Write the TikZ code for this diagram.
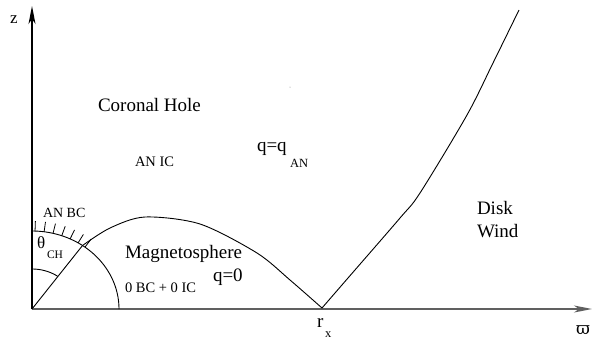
\documentclass[tikz,border=0pt]{standalone}
\usepackage{fontspec}
\setmainfont{Liberation Serif}
\newfontfamily\dvserif{DejaVu Serif}
\usetikzlibrary{arrows.meta}
\tikzset{
  lbl/.style={anchor=base west,inner sep=0pt,outer sep=0pt},
  big/.style={lbl,font=\fontsize{19}{19}\selectfont},
  mid/.style={lbl,font=\fontsize{14.5}{14.5}\selectfont},
  sub/.style={lbl,font=\fontsize{12.5}{12.5}\selectfont},
  curve/.style={line width=0.9pt,black},
  axtip/.style={-{Stealth[length=18pt,width=7pt,inset=5pt]}}
}
\begin{document}
\begin{tikzpicture}[x=1pt,y=-1pt]
\useasboundingbox (0,0) rectangle (605,341);
\coordinate (O) at (32,309);
\coordinate (ztop) at (32,6);
\coordinate (wend) at (592,309);
\coordinate (rx) at (322,308);
\coordinate (X) at ({32+87*cos(54.5)},{309-78*sin(54.5)});
% axes
\draw[axtip,line width=1.4pt,gray!75!black] (O) -- (wend);
\draw[axtip,line width=1.2pt] (O) -- (ztop);
% big quarter arc
\draw[curve] plot[domain=0:90,samples=80] ({32+87*cos(\x)},{309-78*sin(\x)});
% small angle arc
\draw[curve] plot[domain=54.5:90,samples=40] ({32+44.6*cos(\x)},{309-40*sin(\x)});
% diagonal
\draw[curve] (O) -- (X);
% hatch ticks
\foreach \t in {88,82,76,70,64,58,52.5}{
  \draw[line width=0.8pt] ({32+87*cos(\t)},{309-78*sin(\t)}) -- ({32+97*cos(\t)},{309-88*sin(\t)});
}
% magnetosphere boundary
\draw[curve] plot[smooth,tension=0.5] coordinates {(X) (110,228) (145,217) (200,224) (257,253) (290,280) (rx)};
% disk wind boundary
\draw[curve] plot[smooth,tension=0.5] coordinates {(rx) (348,278) (400,218) (420,193) (467,115) (493,63) (519,10)};
% stray dot
\fill[gray] (290,87) circle (0.5);
% labels
\node[lbl,font=\fontsize{17}{17}\selectfont] (zl) at (10,23) {z};
\node[big] (ch) at (98,111) {Coronal Hole};
\node[mid] (anic) at (135,166) {AN IC};
\node[big] (qq) at (257,151) {q=q};
\node[sub] (qan) at (290,167) {AN};
\node[lbl,font=\fontsize{14}{14}\selectfont] (anbc) at (43,217) {AN BC};
\node[lbl,font=\fontsize{17}{17}\selectfont] (th) at (37,248) {θ};
\node[lbl,font=\fontsize{11.5}{11.5}\selectfont] (thch) at (47,258) {CH};
\node[big] (mag) at (125,258) {Magnetosphere};
\node[big] (q0) at (213,281) {q=0};
\node[mid] (bcic) at (125,292) {0 BC + 0 IC};
\node[big] (disk) at (477,214) {Disk};
\node[big] (wind) at (477,237) {Wind};
\node[big] (rl) at (317,327) {r};
\node[sub] (rxs) at (325,337) {x};
\node[lbl,font=\dvserif\fontsize{17}{17}\selectfont] (varpi) at (576,334) {ϖ};
\end{tikzpicture}
\end{document}
